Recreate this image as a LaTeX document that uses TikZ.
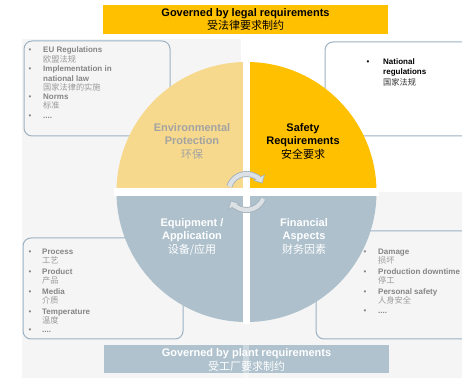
\documentclass[tikz,border=0pt]{standalone}
\usepackage{fontspec}
\setmainfont{Liberation Sans}
\newfontfamily\cjk{Noto Sans CJK SC}
\usetikzlibrary{arrows.meta}
\definecolor{gold}{HTML}{FFC000}
\definecolor{lightgold}{HTML}{F6D98C}
\definecolor{bluegray}{HTML}{ADC0CC}
\definecolor{bannerblue}{HTML}{AFC2CE}
\definecolor{bggray}{HTML}{F5F5F5}
\definecolor{boxline}{HTML}{9CB2C3}
\definecolor{boxtext}{HTML}{858585}
\definecolor{boxzh}{HTML}{9A9A9A}
\definecolor{envtext}{HTML}{A3A3A3}
\definecolor{arrowfill}{HTML}{DCE1E5}
\definecolor{arrowline}{HTML}{A6B3BD}
\begin{document}
\begin{tikzpicture}[x=1pt,y=1pt,
  infobox/.style={draw=boxline, line width=1pt, rounded corners=8pt},
  bul/.style={anchor=base, inner sep=0pt, font=\fontsize{8}{9}\selectfont, text=boxtext},
  boxlat/.style={anchor=base west, inner sep=0pt, font=\fontsize{8}{9}\selectfont\bfseries, text=boxtext},
  boxcjk/.style={anchor=base west, inner sep=0pt, font=\fontsize{8.2}{9}\selectfont\cjk, text=boxzh},
  qlat/.style={anchor=base, inner sep=0pt, font=\fontsize{11}{13}\selectfont\bfseries},
  qcjk/.style={anchor=base, inner sep=0pt, font=\fontsize{11}{13}\selectfont\cjk},
  cyc/.style={line width=6pt, draw=arrowline, -{Triangle[length=7pt,width=13pt]}},
  cycin/.style={line width=4.2pt, draw=arrowfill, shorten >=1.2pt, -{Triangle[length=5.2pt,width=9.6pt]}}
]
\useasboundingbox (0,0) rectangle (462,379);
\clip (0,0) rectangle (462,379);
\fill[white] (0,0) rectangle (462,379);
% faint background panels
\fill[bggray] (22,1) rectangle (241,340);
\fill[bggray] (241,1) rectangle (462,187);

% top banner
\fill[gold] (103,345) rectangle (388,374);
\node[qlat] (legal1) at (245.5,362.4) {Governed by legal requirements};
\node[qcjk] (legal2) at (245.5,349.3) {受法律要求制约};

% info boxes
\draw[infobox, fill=bggray] (24,243) rectangle (170,338);
\draw[infobox, fill=white] (325,243) rectangle (480,337);
\draw[infobox, fill=bggray] (23,40) rectangle (183,141);
\draw[infobox, fill=bggray] (316,40) rectangle (480,148);

% quadrant circle
\begin{scope}
  \clip (246.5,187) circle (130);
  \fill[lightgold] (100,187) rectangle (246.5,330);
  \fill[gold] (246.5,187) rectangle (400,330);
  \fill[bluegray] (100,40) rectangle (400,187);
\end{scope}
\draw[white, line width=7pt] (246.5,55) -- (246.5,319);
\draw[white, line width=8pt] (114,187) -- (379,187);

% bottom banner
\fill[bannerblue] (104,6) rectangle (389,34);
\fill[white, opacity=0.35] (243,1) rectangle (249,34);
\node[qlat, text=white] (plant1) at (246.5,22) {Governed by plant requirements};
\node[qcjk, text=white] (plant2) at (246.5,8) {受工厂要求制约};

% quadrant labels
\node[qlat, text=envtext] (env1) at (192,247) {Environmental};
\node[qlat, text=envtext] (env2) at (192,234) {Protection};
\node[qcjk, text=envtext] (env3) at (192,220) {环保};
\node[qlat, text=black] (saf1) at (303,247) {Safety};
\node[qlat, text=black] (saf2) at (303,234) {Requirements};
\node[qcjk, text=black] (saf3) at (303,220) {安全要求};
\node[qlat, text=white] (eq1) at (192,152) {Equipment /};
\node[qlat, text=white] (eq2) at (192,139) {Application};
\node[qcjk, text=white] (eq3) at (192,125) {设备/应用};
\node[qlat, text=white] (fin1) at (304,152) {Financial};
\node[qlat, text=white] (fin2) at (304,139) {Aspects};
\node[qcjk, text=white] (fin3) at (304,125) {财务因素};

% cycle arrows
\coordinate (cc) at (246.5,187);
\draw[cyc] ([shift={(162:18)}]cc) arc[start angle=162, end angle=28, radius=18];
\draw[cycin] ([shift={(162:18)}]cc) arc[start angle=162, end angle=28, radius=18];
\draw[cyc] ([shift={(-22:18)}]cc) arc[start angle=-22, end angle=-152, radius=18];
\draw[cycin] ([shift={(-22:18)}]cc) arc[start angle=-22, end angle=-152, radius=18];

% top-left box text
\node[bul] (b11) at (30,326) {•};
\node[boxlat] (l11) at (43,326) {EU Regulations};
\node[boxcjk] (l12) at (43,316.7) {欧盟法规};
\node[bul] (b12) at (30,307) {•};
\node[boxlat] (l13) at (43,307) {Implementation in};
\node[boxlat] (l14) at (43,297.7) {national law};
\node[boxcjk] (l15) at (43,288.7) {国家法律的实施};
\node[bul] (b13) at (30,279.3) {•};
\node[boxlat] (l16) at (43,279.3) {Norms};
\node[boxcjk] (l17) at (43,270) {标准};
\node[bul] (b14) at (30,260.5) {•};
\node[boxlat] (l18) at (43,260.5) {....};

% top-right box text
\node[bul, text=black] (b21) at (368,314) {•};
\node[boxlat, text=black] (r11) at (383,314) {National};
\node[boxlat, text=black] (r12) at (383,304) {regulations};
\node[boxcjk, text=black!80] (r13) at (383,293) {国家法规};

% bottom-left box text
\node[bul] (b31) at (30,124) {•};
\node[boxlat] (p11) at (42,124) {Process};
\node[boxcjk] (p12) at (42,115) {工艺};
\node[bul] (b32) at (30,104) {•};
\node[boxlat] (p13) at (42,104) {Product};
\node[boxcjk] (p14) at (42,95) {产品};
\node[bul] (b33) at (30,84) {•};
\node[boxlat] (p15) at (42,84) {Media};
\node[boxcjk] (p16) at (42,75) {介质};
\node[bul] (b34) at (30,64) {•};
\node[boxlat] (p17) at (42,64) {Temperature};
\node[boxcjk] (p18) at (42,55) {温度};
\node[bul] (b35) at (30,46) {•};
\node[boxlat] (p19) at (42,46) {....};

% bottom-right box text
\node[bul] (b41) at (365,124) {•};
\node[boxlat] (f11) at (378,124) {Damage};
\node[boxcjk] (f12) at (378,115) {损坏};
\node[bul] (b42) at (365,104) {•};
\node[boxlat] (f13) at (378,104) {Production downtime};
\node[boxcjk] (f14) at (378,95) {停工};
\node[bul] (b43) at (365,84) {•};
\node[boxlat] (f15) at (378,84) {Personal safety};
\node[boxcjk] (f16) at (378,75) {人身安全};
\node[bul] (b44) at (365,65) {•};
\node[boxlat] (f17) at (378,65) {....};
\end{tikzpicture}
\end{document}
